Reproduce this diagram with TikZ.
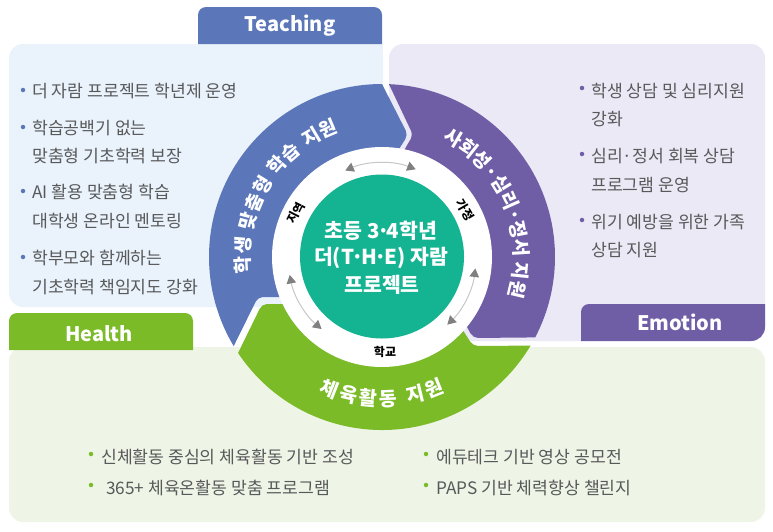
\documentclass[tikz,border=0pt]{standalone}
\usepackage{fontspec}
\setmainfont{Noto Sans CJK KR}
\usetikzlibrary{calc,arrows.meta,decorations.text}
\definecolor{cblue}{HTML}{5B77BA}
\definecolor{cpurple}{HTML}{6F5EA6}
\definecolor{cgreen}{HTML}{7ABB27}
\definecolor{cteal}{HTML}{14B392}
\definecolor{pblue}{HTML}{EAF3FB}
\definecolor{ppurple}{HTML}{EBE9F5}
\definecolor{pgreen}{HTML}{EFF5E6}
\definecolor{ctext}{HTML}{58595B}
\newcommand{\tdot}{\kern-.13em·\kern-.13em}
\tikzset{
  bodytext/.style={anchor=west,inner sep=0pt,text=ctext,font=\fontsize{17.2}{17.2}\selectfont},
  bulletdot/.style={circle,inner sep=0pt,minimum size=4.5pt},
  tabtext/.style={text=white,inner sep=0pt,font=\fontsize{20}{20}\selectfont\bfseries},
  hubtext/.style={text=white,inner sep=0pt,font=\fontsize{20.5}{20.5}\selectfont\bfseries},
  smalltext/.style={text=black,inner sep=0pt,font=\fontsize{12}{12}\selectfont\bfseries},
  cycarrow/.style={draw=black!22,line width=1pt,{Triangle[length=8.5pt,width=9.5pt,color=black!50]}-{Triangle[length=8.5pt,width=9.5pt,color=black!50]}},
}
\begin{document}
\begin{tikzpicture}[x=1pt,y=-1pt]
\useasboundingbox (0,0) rectangle (773,531);
\coordinate (c) at (382,257);
% panels
\fill[pblue,rounded corners=14pt] (9,44) rectangle (383,307);
\fill[pblue] (300,44) rectangle (383,307);
\fill[ppurple,rounded corners=14pt] (389,44) rectangle (765,341);
\fill[pgreen,rounded corners=14pt] (9,347) rectangle (765,522);
% tabs
\fill[cblue] (198,44) [rounded corners=8pt] -- (198,7) -- (382,7) [sharp corners] -- (382,44) -- cycle;
\fill[cgreen] (9,350) [rounded corners=8pt] -- (9,313) -- (193,313) [sharp corners] -- (193,350) -- cycle;
\fill[cpurple] (581,341) [rounded corners=8pt] -- (581,304) [sharp corners] -- (765,304) [rounded corners=14pt] -- (765,341) [sharp corners] -- cycle;
% ring segments
\fill[cblue] ($(c)+(90:173pt)$) arc[start angle=90,end angle=211,radius=173pt]
  [rounded corners=5pt] -- (258,297) -- (330,297) -- (392,160) -- (408,135) [sharp corners] -- cycle;
\fill[cpurple] ($(c)+(87.7:173pt)$) arc[start angle=87.7,end angle=-27.7,radius=173pt]
  [rounded corners=5pt] -- (473,338) -- (455,305) -- (395,166) -- (413,135) [sharp corners] -- cycle;
\fill[cgreen] ($(c)+(213.7:173pt)$) arc[start angle=213.7,end angle=329.2,radius=173pt]
  [rounded corners=5pt] -- (473,346) -- (450,310) -- (330,304) -- (262,304) [sharp corners] -- cycle;
% centre
\fill[white] (c) circle[radius=110pt];
\node[circle,fill=cteal,minimum size=164pt,inner sep=0pt] (hub) at (382,256.5) {};
% cycle arrows
\draw[cycarrow] ($(c)+(113:94pt)$) arc[start angle=113,end angle=69,radius=94pt];
\draw[cycarrow] ($(c)+(191:94pt)$) arc[start angle=191,end angle=230,radius=94pt];
\draw[cycarrow] ($(c)+(-7:94pt)$) arc[start angle=-7,end angle=-46,radius=94pt];
% ring titles
\path[decorate,decoration={text along path,text align=fit to path,
  text={|\fontsize{19}{19}\selectfont\bfseries\color{white}|학생 맞춤형 학습 지원}}]
  ($(c)+(187:132pt)$) arc[start angle=187,end angle=109,radius=132pt];
\path[decorate,decoration={text along path,text align=fit to path,
  text={|\fontsize{19}{19}\selectfont\bfseries\color{white}|사회성·심리·정서 지원}}]
  ($(c)+(63:132pt)$) arc[start angle=63,end angle=-15,radius=132pt];
\path[decorate,decoration={text along path,text align=fit to path,
  text={|\fontsize{19.5}{19.5}\selectfont\bfseries\color{white}|체육활동 지원}}]
  ($(c)+(245:149pt)$) arc[start angle=245,end angle=295,radius=149pt];
% small labels
\node[smalltext,rotate=63] (jiyeok) at (296,213) {지역};
\node[smalltext,rotate=-60] (gajeong) at (465,210) {가정};
\node[smalltext] (hakgyo) at (385,352) {학교};
% centre text
\node[hubtext] (t1) at (381,231) {초등 3\tdot 4학년};
\node[hubtext] (t2) at (381,258) {더(T\tdot H\tdot E) 자람};
\node[hubtext] (t3) at (382,285) {프로젝트};
% tab titles
\node[tabtext] (teaching) at (290,26) {Teaching};
\node[tabtext] (health) at (99,334) {Health};
\node[tabtext] (emotion) at (680,322) {Emotion};
% left list
\foreach \y in {90,127,191,257} \node[bulletdot,fill=cblue] at (23,\y) {};
\node[bodytext] (l1) at (32,91) {더 자람 프로젝트 학년제 운영};
\node[bodytext] (l2) at (32,128) {학습공백기 없는};
\node[bodytext] (l3) at (32,156) {맞춤형 기초학력 보장};
\node[bodytext] (l4) at (32,192) {AI 활용 맞춤형 학습};
\node[bodytext] (l5) at (32,221) {대학생 온라인 멘토링};
\node[bodytext] (l6) at (32,258) {학부모와 함께하는};
\node[bodytext] (l7) at (32,287) {기초학력 책임지도 강화};
% right list
\foreach \y in {88,154,220} \node[bulletdot,fill=cpurple] at (582,\y) {};
\node[bodytext] (r1) at (591,91) {학생 상담 및 심리지원};
\node[bodytext] (r2) at (591,119) {강화};
\node[bodytext] (r3) at (591,156) {심리·정서 회복 상담};
\node[bodytext] (r4) at (591,185) {프로그램 운영};
\node[bodytext] (r5) at (591,222) {위기 예방을 위한 가족};
\node[bodytext] (r6) at (591,250) {상담 지원};
% bottom list
\foreach \x/\y in {91/454,91/485,426/454,426/485} \node[bulletdot,fill=cgreen] at (\x,\y) {};
\node[bodytext] (b1) at (101,457) {신체활동 중심의 체육활동 기반 조성};
\node[bodytext] (b2) at (106,488) {365+ 체육온활동 맞춤 프로그램};
\node[bodytext] (b3) at (436,457) {에듀테크 기반 영상 공모전};
\node[bodytext] (b4) at (436,488) {PAPS 기반 체력향상 챌린지};
\end{tikzpicture}
\end{document}
